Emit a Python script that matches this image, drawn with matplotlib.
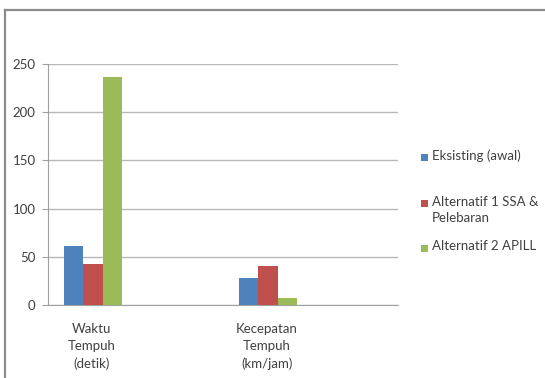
import matplotlib
matplotlib.use("Agg")
import matplotlib.pyplot as plt
from matplotlib.patches import Rectangle
from matplotlib.lines import Line2D
import numpy as np

categories = ["Waktu\nTempuh\n(detik)", "", "Kecepatan\nTempuh\n(km/jam)", ""]
series_names = ["Eksisting (awal)", "Alternatif 1 SSA &\nPelebaran", "Alternatif 2 APILL"]
eksisting = [61, np.nan, 28, np.nan]
alternatif1 = [42.5, np.nan, 40, np.nan]
alternatif2 = [237, np.nan, 7.5, np.nan]
colors = ["#4F81BD", "#C0504D", "#9BBB59"]
yticks = [0, 50, 100, 150, 200, 250]

plt.rcParams['font.family'] = ['Lato', 'DejaVu Sans']
W, H = 545, 378
fig = plt.figure(figsize=(W/100, H/100), dpi=100)
ax = fig.add_axes([48/W, 1-305/H, (398-48)/W, (305-64)/H])

x = np.arange(len(categories))
bw = 0.223
for i, (vals, c) in enumerate(zip([eksisting, alternatif1, alternatif2], colors)):
    ax.bar(x + (i-1)*bw + 0.015, vals, width=bw, color=c, zorder=3)

ax.set_xlim(-0.5, len(categories)-0.5)
ax.set_ylim(0, 250)
ax.set_yticks(yticks)
ax.set_yticklabels([str(t) for t in yticks], fontsize=9.5, color="#404040")
ax.set_xticks(x)
ax.set_xticklabels(categories, fontsize=9.5, color="#404040", linespacing=1.5)
ax.tick_params(axis='x', length=0, pad=13)
ax.tick_params(axis='y', length=4, color="#A0A0A0", pad=5)
ax.grid(axis='y', color="#B8B8B8", linewidth=1, zorder=0)
for s in ["top", "right"]:
    ax.spines[s].set_visible(False)
ax.spines["left"].set_color("#A0A0A0")
ax.spines["bottom"].set_color("#A0A0A0")

# legend (manual)
legend_y = [157, 203, 248]
for name, c, yy in zip(series_names, colors, legend_y):
    fig.patches.append(Rectangle((421/W, 1-(yy+3.5)/H), 7/W, 7/H, transform=fig.transFigure,
                                 facecolor=c, edgecolor='none'))
    fig.text(432/W, 1-(yy-7.5)/H, name, fontsize=9.5, color="#404040", va='top', ha='left',
             linespacing=1.5)

# frame
fig.add_artist(Line2D([5/W, 1], [1-10/H, 1-10/H], transform=fig.transFigure, color="#8C8C8C", linewidth=1.6))
fig.add_artist(Line2D([5/W, 5/W], [0, 1-10/H], transform=fig.transFigure, color="#8C8C8C", linewidth=1.6))

fig.savefig("out.png", dpi=100)
